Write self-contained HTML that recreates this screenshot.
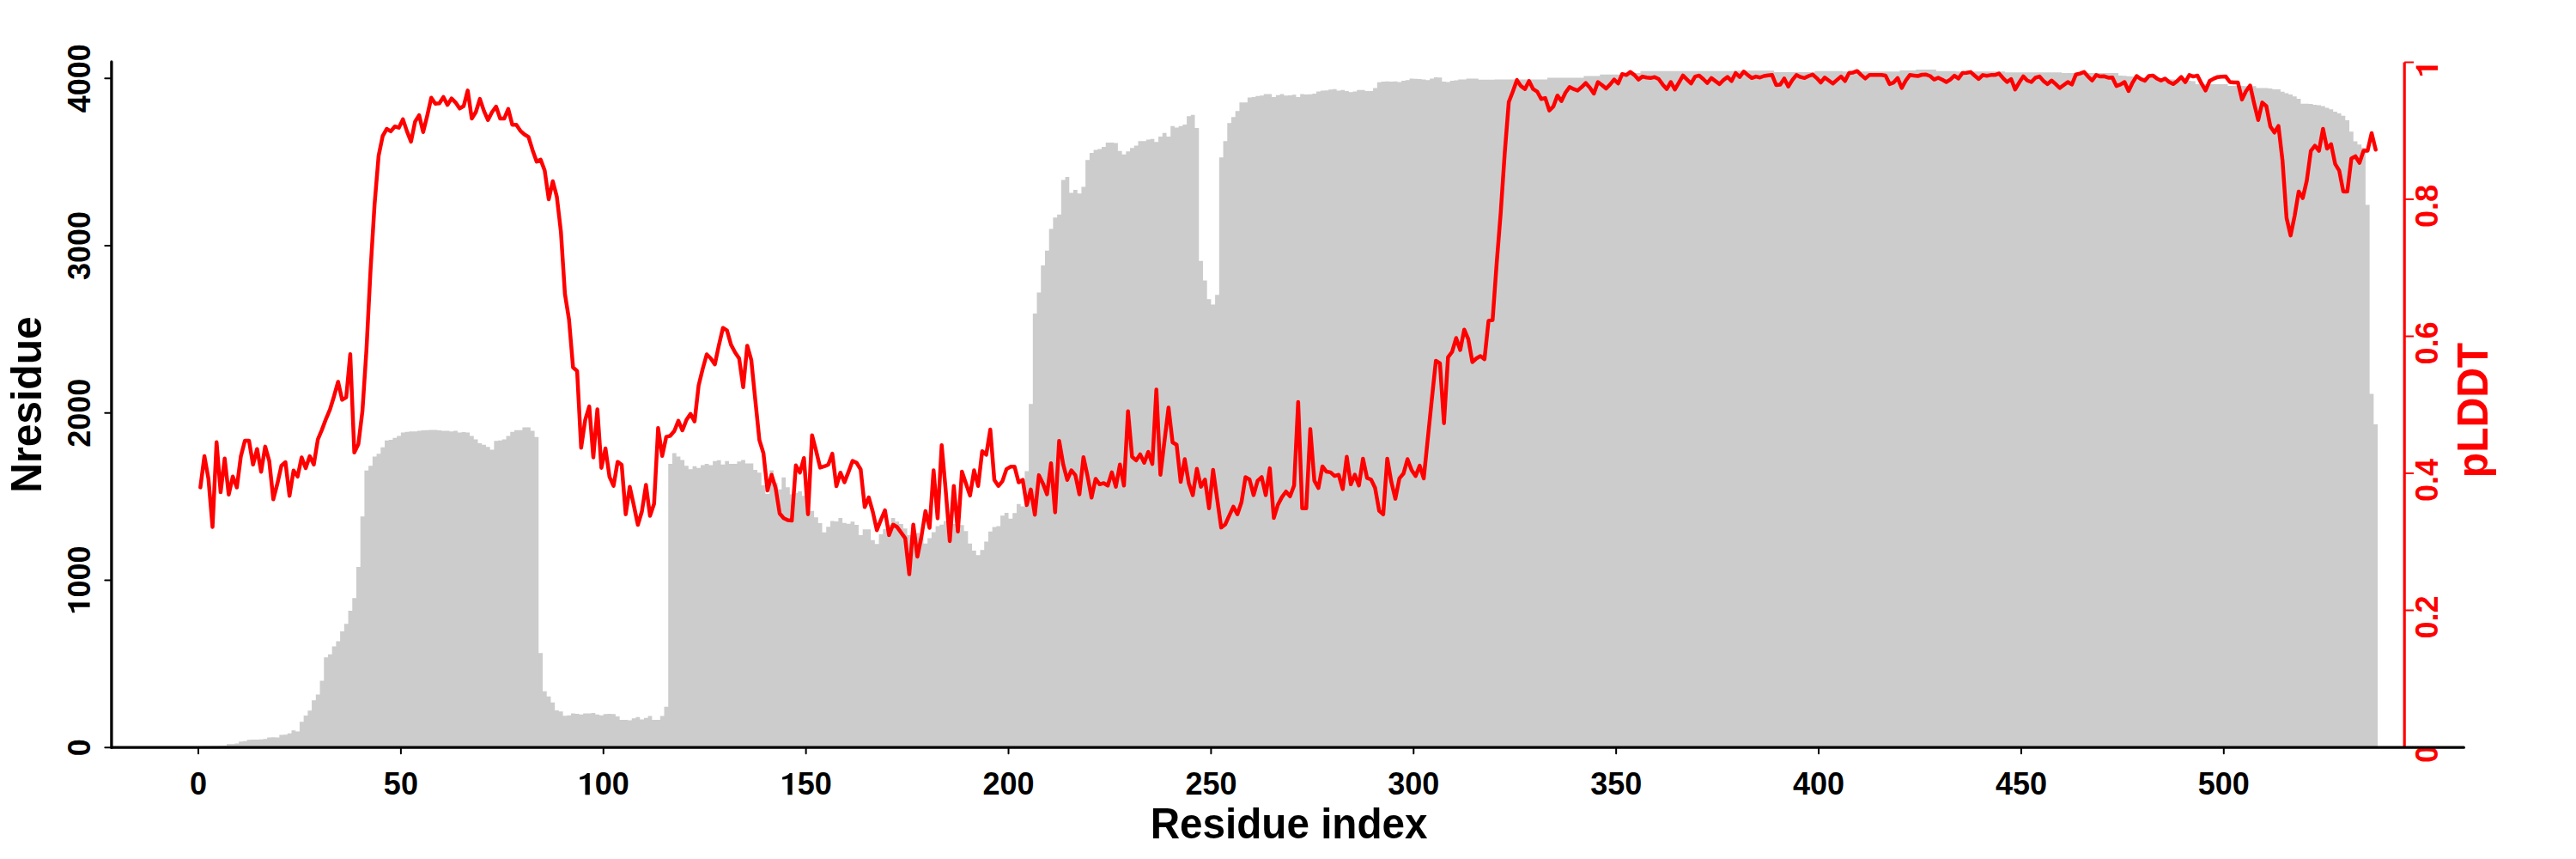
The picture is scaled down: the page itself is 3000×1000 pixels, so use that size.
<!DOCTYPE html>
<html><head><meta charset="utf-8"><title>Nresidue / pLDDT</title>
<style>html,body{margin:0;padding:0;background:#fff;width:3000px;height:1000px;overflow:hidden}svg{display:block}</style>
</head><body>
<svg width="3000" height="1000" viewBox="0 0 3000 1000">
<rect width="3000" height="1000" fill="#ffffff"/>
<path d="M231.00 870.30 L231.00 869.00 L235.72 869.00 L235.72 868.80 L240.44 868.80 L240.44 868.70 L245.15 868.70 L245.15 868.60 L249.87 868.60 L249.87 868.40 L254.59 868.40 L254.59 868.30 L259.31 868.30 L259.31 868.10 L264.02 868.10 L264.02 866.30 L268.74 866.30 L268.74 866.30 L273.46 866.30 L273.46 865.60 L278.18 865.60 L278.18 863.30 L282.89 863.30 L282.89 862.70 L287.61 862.70 L287.61 861.30 L292.33 861.30 L292.33 861.10 L297.05 861.10 L297.05 861.00 L301.76 861.00 L301.76 860.70 L306.48 860.70 L306.48 860.20 L311.20 860.20 L311.20 858.50 L315.92 858.50 L315.92 858.30 L320.63 858.30 L320.63 858.50 L325.35 858.50 L325.35 855.40 L330.07 855.40 L330.07 855.20 L334.79 855.20 L334.79 853.70 L339.50 853.70 L339.50 850.20 L344.22 850.20 L344.22 851.50 L348.94 851.50 L348.94 840.20 L353.66 840.20 L353.66 833.00 L358.38 833.00 L358.38 827.20 L363.09 827.20 L363.09 815.30 L367.81 815.30 L367.81 808.50 L372.53 808.50 L372.53 792.60 L377.25 792.60 L377.25 765.30 L381.96 765.30 L381.96 761.80 L386.68 761.80 L386.68 752.40 L391.40 752.40 L391.40 746.50 L396.12 746.50 L396.12 735.00 L400.83 735.00 L400.83 726.20 L405.55 726.20 L405.55 710.90 L410.27 710.90 L410.27 696.20 L414.99 696.20 L414.99 660.10 L419.70 660.10 L419.70 601.19 L424.42 601.19 L424.42 547.64 L429.14 547.64 L429.14 542.29 L433.86 542.29 L433.86 531.58 L438.57 531.58 L438.57 528.37 L443.29 528.37 L443.29 520.87 L448.01 520.87 L448.01 512.84 L452.73 512.84 L452.73 512.03 L457.44 512.03 L457.44 509.63 L462.16 509.63 L462.16 507.48 L466.88 507.48 L466.88 503.47 L471.60 503.47 L471.60 502.66 L476.32 502.66 L476.32 502.13 L481.03 502.13 L481.03 502.13 L485.75 502.13 L485.75 501.59 L490.47 501.59 L490.47 501.06 L495.19 501.06 L495.19 500.79 L499.90 500.79 L499.90 500.52 L504.62 500.52 L504.62 500.52 L509.34 500.52 L509.34 501.06 L514.06 501.06 L514.06 501.59 L518.77 501.59 L518.77 501.59 L523.49 501.59 L523.49 502.13 L528.21 502.13 L528.21 501.59 L532.93 501.59 L532.93 503.47 L537.64 503.47 L537.64 502.93 L542.36 502.93 L542.36 503.47 L547.08 503.47 L547.08 507.48 L551.80 507.48 L551.80 511.50 L556.51 511.50 L556.51 516.05 L561.23 516.05 L561.23 517.66 L565.95 517.66 L565.95 520.33 L570.67 520.33 L570.67 523.55 L575.38 523.55 L575.38 513.37 L580.10 513.37 L580.10 512.84 L584.82 512.84 L584.82 511.50 L589.54 511.50 L589.54 507.48 L594.26 507.48 L594.26 502.66 L598.97 502.66 L598.97 500.79 L603.69 500.79 L603.69 500.79 L608.41 500.79 L608.41 497.58 L613.13 497.58 L613.13 497.58 L617.84 497.58 L617.84 501.59 L622.56 501.59 L622.56 508.82 L627.28 508.82 L627.28 760.17 L632.00 760.17 L632.00 804.72 L636.71 804.72 L636.71 810.83 L641.43 810.83 L641.43 817.82 L646.15 817.82 L646.15 826.90 L650.87 826.90 L650.87 828.30 L655.58 828.30 L655.58 833.19 L660.30 833.19 L660.30 832.66 L665.02 832.66 L665.02 830.39 L669.74 830.39 L669.74 830.92 L674.45 830.92 L674.45 831.79 L679.17 831.79 L679.17 830.39 L683.89 830.39 L683.89 830.39 L688.61 830.39 L688.61 830.04 L693.32 830.04 L693.32 831.79 L698.04 831.79 L698.04 832.66 L702.76 832.66 L702.76 831.27 L707.48 831.27 L707.48 831.09 L712.20 831.09 L712.20 831.27 L716.91 831.27 L716.91 833.89 L721.63 833.89 L721.63 837.90 L726.35 837.90 L726.35 837.90 L731.07 837.90 L731.07 838.43 L735.78 838.43 L735.78 836.16 L740.50 836.16 L740.50 834.76 L745.22 834.76 L745.22 837.38 L749.94 837.38 L749.94 835.63 L754.65 835.63 L754.65 833.54 L759.37 833.54 L759.37 837.90 L764.09 837.90 L764.09 837.90 L768.81 837.90 L768.81 833.54 L773.52 833.54 L773.52 822.71 L778.24 822.71 L778.24 539.99 L782.96 539.99 L782.96 527.40 L787.68 527.40 L787.68 531.42 L792.39 531.42 L792.39 535.44 L797.11 535.44 L797.11 542.13 L801.83 542.13 L801.83 546.14 L806.55 546.14 L806.55 542.66 L811.26 542.66 L811.26 544.81 L815.98 544.81 L815.98 541.59 L820.70 541.59 L820.70 539.99 L825.42 539.99 L825.42 541.59 L830.14 541.59 L830.14 536.77 L834.85 536.77 L834.85 535.70 L839.57 535.70 L839.57 540.79 L844.29 540.79 L844.29 536.77 L849.01 536.77 L849.01 539.99 L853.72 539.99 L853.72 539.99 L858.44 539.99 L858.44 537.31 L863.16 537.31 L863.16 535.44 L867.88 535.44 L867.88 539.45 L872.59 539.45 L872.59 539.45 L877.31 539.45 L877.31 546.95 L882.03 546.95 L882.03 550.16 L886.75 550.16 L886.75 564.89 L891.46 564.89 L891.46 574.94 L896.18 574.94 L896.18 547.57 L900.90 547.57 L900.90 562.13 L905.62 562.13 L905.62 569.70 L910.33 569.70 L910.33 555.72 L915.05 555.72 L915.05 567.37 L919.77 567.37 L919.77 575.52 L924.49 575.52 L924.49 573.77 L929.20 573.77 L929.20 572.03 L933.92 572.03 L933.92 577.27 L938.64 577.27 L938.64 584.25 L943.36 584.25 L943.36 594.73 L948.08 594.73 L948.08 602.30 L952.79 602.30 L952.79 608.94 L957.51 608.94 L957.51 619.77 L962.23 619.77 L962.23 613.13 L966.95 613.13 L966.95 606.38 L971.66 606.38 L971.66 606.96 L976.38 606.96 L976.38 602.89 L981.10 602.89 L981.10 608.71 L985.82 608.71 L985.82 609.87 L990.53 609.87 L990.53 607.31 L995.25 607.31 L995.25 611.04 L999.97 611.04 L999.97 622.92 L1004.69 622.92 L1004.69 616.28 L1009.40 616.28 L1009.40 616.28 L1014.12 616.28 L1014.12 628.74 L1018.84 628.74 L1018.84 633.16 L1023.56 633.16 L1023.56 622.10 L1028.27 622.10 L1028.27 615.70 L1032.99 615.70 L1032.99 611.04 L1037.71 611.04 L1037.71 602.89 L1042.43 602.89 L1042.43 607.16 L1047.14 607.16 L1047.14 610.08 L1051.86 610.08 L1051.86 615.32 L1056.58 615.32 L1056.58 622.89 L1061.30 622.89 L1061.30 620.56 L1066.02 620.56 L1066.02 620.56 L1070.73 620.56 L1070.73 626.38 L1075.45 626.38 L1075.45 632.78 L1080.17 632.78 L1080.17 626.38 L1084.89 626.38 L1084.89 619.39 L1089.60 619.39 L1089.60 612.40 L1094.32 612.40 L1094.32 610.66 L1099.04 610.66 L1099.04 606.58 L1103.76 606.58 L1103.76 608.91 L1108.47 608.91 L1108.47 610.08 L1113.19 610.08 L1113.19 611.24 L1117.91 611.24 L1117.91 611.24 L1122.63 611.24 L1122.63 618.23 L1127.34 618.23 L1127.34 632.78 L1132.06 632.78 L1132.06 640.94 L1136.78 640.94 L1136.78 646.18 L1141.50 646.18 L1141.50 640.35 L1146.21 640.35 L1146.21 630.46 L1150.93 630.46 L1150.93 618.81 L1155.65 618.81 L1155.65 613.57 L1160.37 613.57 L1160.37 612.40 L1165.08 612.40 L1165.08 600.18 L1169.80 600.18 L1169.80 597.03 L1174.52 597.03 L1174.52 603.67 L1179.24 603.67 L1179.24 597.27 L1183.96 597.27 L1183.96 586.63 L1188.67 586.63 L1188.67 589.42 L1193.39 589.42 L1193.39 548.45 L1198.11 548.45 L1198.11 470.24 L1202.83 470.24 L1202.83 364.98 L1207.54 364.98 L1207.54 340.53 L1212.26 340.53 L1212.26 309.09 L1216.98 309.09 L1216.98 291.63 L1221.70 291.63 L1221.70 266.48 L1226.41 266.48 L1226.41 253.21 L1231.13 253.21 L1231.13 249.71 L1235.85 249.71 L1235.85 209.55 L1240.57 209.55 L1240.57 206.05 L1245.28 206.05 L1245.28 224.57 L1250.00 224.57 L1250.00 221.07 L1254.72 221.07 L1254.72 225.26 L1259.44 225.26 L1259.44 217.58 L1264.15 217.58 L1264.15 186.14 L1268.87 186.14 L1268.87 178.11 L1273.59 178.11 L1273.59 174.62 L1278.31 174.62 L1278.31 173.57 L1283.02 173.57 L1283.02 171.12 L1287.74 171.12 L1287.74 165.89 L1292.46 165.89 L1292.46 165.89 L1297.18 165.89 L1297.18 166.58 L1301.90 166.58 L1301.90 175.67 L1306.61 175.67 L1306.61 179.86 L1311.33 179.86 L1311.33 176.36 L1316.05 176.36 L1316.05 172.17 L1320.77 172.17 L1320.77 169.38 L1325.48 169.38 L1325.48 164.14 L1330.20 164.14 L1330.20 164.14 L1334.92 164.14 L1334.92 162.39 L1339.64 162.39 L1339.64 161.69 L1344.35 161.69 L1344.35 165.19 L1349.07 165.19 L1349.07 158.90 L1353.79 158.90 L1353.79 154.71 L1358.51 154.71 L1358.51 158.90 L1363.22 158.90 L1363.22 146.67 L1367.94 146.67 L1367.94 148.42 L1372.66 148.42 L1372.66 146.67 L1377.38 146.67 L1377.38 144.93 L1382.09 144.93 L1382.09 135.15 L1386.81 135.15 L1386.81 133.75 L1391.53 133.75 L1391.53 149.12 L1396.25 149.12 L1396.25 303.85 L1400.96 303.85 L1400.96 326.56 L1405.68 326.56 L1405.68 348.21 L1410.40 348.21 L1410.40 354.50 L1415.12 354.50 L1415.12 343.32 L1419.84 343.32 L1419.84 183.35 L1424.55 183.35 L1424.55 164.14 L1429.27 164.14 L1429.27 143.18 L1433.99 143.18 L1433.99 136.20 L1438.71 136.20 L1438.71 129.21 L1443.42 129.21 L1443.42 119.36 L1448.14 119.36 L1448.14 119.36 L1452.86 119.36 L1452.86 113.54 L1457.58 113.54 L1457.58 112.96 L1462.29 112.96 L1462.29 111.79 L1467.01 111.79 L1467.01 111.21 L1471.73 111.21 L1471.73 109.46 L1476.45 109.46 L1476.45 109.46 L1481.16 109.46 L1481.16 112.96 L1485.88 112.96 L1485.88 110.63 L1490.60 110.63 L1490.60 109.46 L1495.32 109.46 L1495.32 111.21 L1500.03 111.21 L1500.03 110.98 L1504.75 110.98 L1504.75 110.28 L1509.47 110.28 L1509.47 112.96 L1514.19 112.96 L1514.19 109.46 L1518.90 109.46 L1518.90 110.05 L1523.62 110.05 L1523.62 109.81 L1528.34 109.81 L1528.34 108.88 L1533.06 108.88 L1533.06 106.55 L1537.78 106.55 L1537.78 105.62 L1542.49 105.62 L1542.49 105.16 L1547.21 105.16 L1547.21 104.23 L1551.93 104.23 L1551.93 103.65 L1556.65 103.65 L1556.65 105.39 L1561.36 105.39 L1561.36 104.81 L1566.08 104.81 L1566.08 105.97 L1570.80 105.97 L1570.80 107.14 L1575.52 107.14 L1575.52 106.55 L1580.23 106.55 L1580.23 104.81 L1584.95 104.81 L1584.95 104.81 L1589.67 104.81 L1589.67 105.97 L1594.39 105.97 L1594.39 105.97 L1599.10 105.97 L1599.10 102.48 L1603.82 102.48 L1603.82 95.85 L1608.54 95.85 L1608.54 94.92 L1613.26 94.92 L1613.26 94.68 L1617.97 94.68 L1617.97 94.92 L1622.69 94.92 L1622.69 94.68 L1627.41 94.68 L1627.41 95.50 L1632.13 95.50 L1632.13 93.99 L1636.84 93.99 L1636.84 93.17 L1641.56 93.17 L1641.56 91.42 L1646.28 91.42 L1646.28 91.66 L1651.00 91.66 L1651.00 92.01 L1655.72 92.01 L1655.72 92.59 L1660.43 92.59 L1660.43 93.17 L1665.15 93.17 L1665.15 91.42 L1669.87 91.42 L1669.87 90.03 L1674.59 90.03 L1674.59 90.26 L1679.30 90.26 L1679.30 94.92 L1684.02 94.92 L1684.02 95.50 L1688.74 95.50 L1688.74 93.99 L1693.46 93.99 L1693.46 93.52 L1698.17 93.52 L1698.17 92.59 L1702.89 92.59 L1702.89 92.59 L1707.61 92.59 L1707.61 91.42 L1712.33 91.42 L1712.33 91.42 L1717.04 91.42 L1717.04 91.42 L1721.76 91.42 L1721.76 92.82 L1726.48 92.82 L1726.48 92.82 L1731.20 92.82 L1731.20 92.82 L1735.91 92.82 L1735.91 92.82 L1740.63 92.82 L1740.63 92.59 L1745.35 92.59 L1745.35 92.59 L1750.07 92.59 L1750.07 92.59 L1754.78 92.59 L1754.78 92.59 L1759.50 92.59 L1759.50 92.59 L1764.22 92.59 L1764.22 92.59 L1768.94 92.59 L1768.94 92.59 L1773.66 92.59 L1773.66 92.59 L1778.37 92.59 L1778.37 92.59 L1783.09 92.59 L1783.09 92.59 L1787.81 92.59 L1787.81 92.59 L1792.53 92.59 L1792.53 92.59 L1797.24 92.59 L1797.24 92.59 L1801.96 92.59 L1801.96 90.49 L1806.68 90.49 L1806.68 90.49 L1811.40 90.49 L1811.40 90.49 L1816.11 90.49 L1816.11 90.49 L1820.83 90.49 L1820.83 90.49 L1825.55 90.49 L1825.55 90.49 L1830.27 90.49 L1830.27 90.49 L1834.98 90.49 L1834.98 90.49 L1839.70 90.49 L1839.70 90.49 L1844.42 90.49 L1844.42 88.51 L1849.14 88.51 L1849.14 88.51 L1853.85 88.51 L1853.85 88.51 L1858.57 88.51 L1858.57 88.51 L1863.29 88.51 L1863.29 86.77 L1868.01 86.77 L1868.01 86.77 L1872.72 86.77 L1872.72 86.77 L1877.44 86.77 L1877.44 86.77 L1882.16 86.77 L1882.16 86.77 L1886.88 86.77 L1886.88 85.02 L1891.60 85.02 L1891.60 85.02 L1896.31 85.02 L1896.31 85.02 L1901.03 85.02 L1901.03 85.02 L1905.75 85.02 L1905.75 85.02 L1910.47 85.02 L1910.47 82.80 L1915.18 82.80 L1915.18 82.80 L1919.90 82.80 L1919.90 82.80 L1924.62 82.80 L1924.62 82.80 L1929.34 82.80 L1929.34 82.80 L1934.05 82.80 L1934.05 82.80 L1938.77 82.80 L1938.77 82.80 L1943.49 82.80 L1943.49 82.80 L1948.21 82.80 L1948.21 82.80 L1952.92 82.80 L1952.92 82.80 L1957.64 82.80 L1957.64 82.80 L1962.36 82.80 L1962.36 82.80 L1967.08 82.80 L1967.08 82.80 L1971.79 82.80 L1971.79 82.80 L1976.51 82.80 L1976.51 82.80 L1981.23 82.80 L1981.23 82.80 L1985.95 82.80 L1985.95 82.80 L1990.66 82.80 L1990.66 82.80 L1995.38 82.80 L1995.38 82.80 L2000.10 82.80 L2000.10 82.80 L2004.82 82.80 L2004.82 82.80 L2009.54 82.80 L2009.54 82.80 L2014.25 82.80 L2014.25 82.80 L2018.97 82.80 L2018.97 82.20 L2023.69 82.20 L2023.69 82.20 L2028.41 82.20 L2028.41 82.20 L2033.12 82.20 L2033.12 82.20 L2037.84 82.20 L2037.84 82.20 L2042.56 82.20 L2042.56 82.20 L2047.28 82.20 L2047.28 82.20 L2051.99 82.20 L2051.99 82.20 L2056.71 82.20 L2056.71 82.20 L2061.43 82.20 L2061.43 82.20 L2066.15 82.20 L2066.15 84.00 L2070.86 84.00 L2070.86 84.00 L2075.58 84.00 L2075.58 84.00 L2080.30 84.00 L2080.30 84.00 L2085.02 84.00 L2085.02 84.00 L2089.73 84.00 L2089.73 84.00 L2094.45 84.00 L2094.45 84.00 L2099.17 84.00 L2099.17 84.00 L2103.89 84.00 L2103.89 84.00 L2108.60 84.00 L2108.60 84.00 L2113.32 84.00 L2113.32 82.70 L2118.04 82.70 L2118.04 82.70 L2122.76 82.70 L2122.76 82.70 L2127.48 82.70 L2127.48 82.70 L2132.19 82.70 L2132.19 82.70 L2136.91 82.70 L2136.91 82.70 L2141.63 82.70 L2141.63 82.70 L2146.35 82.70 L2146.35 83.30 L2151.06 83.30 L2151.06 83.30 L2155.78 83.30 L2155.78 83.30 L2160.50 83.30 L2160.50 83.30 L2165.22 83.30 L2165.22 83.30 L2169.93 83.30 L2169.93 83.30 L2174.65 83.30 L2174.65 83.30 L2179.37 83.30 L2179.37 83.30 L2184.09 83.30 L2184.09 83.30 L2188.80 83.30 L2188.80 83.30 L2193.52 83.30 L2193.52 83.30 L2198.24 83.30 L2198.24 83.30 L2202.96 83.30 L2202.96 83.30 L2207.67 83.30 L2207.67 83.30 L2212.39 83.30 L2212.39 82.10 L2217.11 82.10 L2217.11 82.10 L2221.83 82.10 L2221.83 82.10 L2226.54 82.10 L2226.54 82.10 L2231.26 82.10 L2231.26 81.00 L2235.98 81.00 L2235.98 81.00 L2240.70 81.00 L2240.70 81.00 L2245.42 81.00 L2245.42 81.00 L2250.13 81.00 L2250.13 81.00 L2254.85 81.00 L2254.85 82.70 L2259.57 82.70 L2259.57 82.70 L2264.29 82.70 L2264.29 82.70 L2269.00 82.70 L2269.00 82.70 L2273.72 82.70 L2273.72 82.70 L2278.44 82.70 L2278.44 83.30 L2283.16 83.30 L2283.16 83.30 L2287.87 83.30 L2287.87 83.30 L2292.59 83.30 L2292.59 83.30 L2297.31 83.30 L2297.31 83.30 L2302.03 83.30 L2302.03 83.30 L2306.74 83.30 L2306.74 83.30 L2311.46 83.30 L2311.46 83.30 L2316.18 83.30 L2316.18 83.30 L2320.90 83.30 L2320.90 83.30 L2325.61 83.30 L2325.61 83.30 L2330.33 83.30 L2330.33 83.30 L2335.05 83.30 L2335.05 84.20 L2339.77 84.20 L2339.77 84.20 L2344.48 84.20 L2344.48 84.20 L2349.20 84.20 L2349.20 84.20 L2353.92 84.20 L2353.92 84.20 L2358.64 84.20 L2358.64 84.20 L2363.36 84.20 L2363.36 84.20 L2368.07 84.20 L2368.07 84.20 L2372.79 84.20 L2372.79 84.20 L2377.51 84.20 L2377.51 84.20 L2382.23 84.20 L2382.23 84.20 L2386.94 84.20 L2386.94 84.20 L2391.66 84.20 L2391.66 84.20 L2396.38 84.20 L2396.38 84.20 L2401.10 84.20 L2401.10 85.00 L2405.81 85.00 L2405.81 85.00 L2410.53 85.00 L2410.53 85.00 L2415.25 85.00 L2415.25 85.00 L2419.97 85.00 L2419.97 85.00 L2424.68 85.00 L2424.68 85.00 L2429.40 85.00 L2429.40 85.00 L2434.12 85.00 L2434.12 85.00 L2438.84 85.00 L2438.84 85.00 L2443.55 85.00 L2443.55 85.00 L2448.27 85.00 L2448.27 85.00 L2452.99 85.00 L2452.99 85.00 L2457.71 85.00 L2457.71 85.00 L2462.42 85.00 L2462.42 85.00 L2467.14 85.00 L2467.14 88.00 L2471.86 88.00 L2471.86 88.35 L2476.58 88.35 L2476.58 88.71 L2481.30 88.71 L2481.30 89.06 L2486.01 89.06 L2486.01 89.41 L2490.73 89.41 L2490.73 89.76 L2495.45 89.76 L2495.45 90.12 L2500.17 90.12 L2500.17 90.47 L2504.88 90.47 L2504.88 90.82 L2509.60 90.82 L2509.60 91.18 L2514.32 91.18 L2514.32 91.53 L2519.04 91.53 L2519.04 91.88 L2523.75 91.88 L2523.75 92.24 L2528.47 92.24 L2528.47 92.59 L2533.19 92.59 L2533.19 92.94 L2537.91 92.94 L2537.91 93.29 L2542.62 93.29 L2542.62 93.65 L2547.34 93.65 L2547.34 94.00 L2552.06 94.00 L2552.06 94.50 L2556.78 94.50 L2556.78 98.00 L2561.49 98.00 L2561.49 98.00 L2566.21 98.00 L2566.21 98.00 L2570.93 98.00 L2570.93 98.00 L2575.65 98.00 L2575.65 98.00 L2580.36 98.00 L2580.36 98.00 L2585.08 98.00 L2585.08 98.00 L2589.80 98.00 L2589.80 98.00 L2594.52 98.00 L2594.52 99.90 L2599.24 99.90 L2599.24 99.90 L2603.95 99.90 L2603.95 99.90 L2608.67 99.90 L2608.67 99.90 L2613.39 99.90 L2613.39 100.30 L2618.11 100.30 L2618.11 100.30 L2622.82 100.30 L2622.82 100.30 L2627.54 100.30 L2627.54 102.50 L2632.26 102.50 L2632.26 102.50 L2636.98 102.50 L2636.98 102.50 L2641.69 102.50 L2641.69 103.00 L2646.41 103.00 L2646.41 104.00 L2651.13 104.00 L2651.13 104.00 L2655.85 104.00 L2655.85 106.80 L2660.56 106.80 L2660.56 108.60 L2665.28 108.60 L2665.28 110.00 L2670.00 110.00 L2670.00 112.30 L2674.72 112.30 L2674.72 115.10 L2679.43 115.10 L2679.43 120.70 L2684.15 120.70 L2684.15 120.70 L2688.87 120.70 L2688.87 121.00 L2693.59 121.00 L2693.59 122.00 L2698.30 122.00 L2698.30 122.60 L2703.02 122.60 L2703.02 123.50 L2707.74 123.50 L2707.74 125.50 L2712.46 125.50 L2712.46 127.20 L2717.18 127.20 L2717.18 130.00 L2721.89 130.00 L2721.89 132.00 L2726.61 132.00 L2726.61 134.70 L2731.33 134.70 L2731.33 139.90 L2736.05 139.90 L2736.05 153.30 L2740.76 153.30 L2740.76 164.50 L2745.48 164.50 L2745.48 168.20 L2750.20 168.20 L2750.20 172.00 L2754.92 172.00 L2754.92 238.50 L2759.63 238.50 L2759.63 458.60 L2764.35 458.60 L2764.35 494.00 L2769.07 494.00 L2769.07 870.30 Z" fill="#cccccc" stroke="none"/>
<polyline points="233.36,567.37 238.08,531.06 242.79,557.60 247.51,613.46 252.23,514.86 256.95,572.96 261.66,533.85 266.38,575.75 271.10,554.80 275.82,567.37 280.53,531.06 285.25,512.91 289.97,512.91 294.69,540.84 299.41,522.68 304.12,549.22 308.84,519.89 313.56,536.65 318.28,581.34 322.99,563.18 327.71,542.23 332.43,538.04 337.15,577.15 341.86,547.82 346.58,554.80 351.30,532.46 356.02,545.03 360.73,531.06 365.45,540.84 370.17,511.51 374.89,500.34 379.60,487.77 384.32,476.59 389.04,461.23 393.76,444.47 398.47,465.42 403.19,462.63 407.91,412.35 412.63,526.87 417.35,517.09 422.06,478.83 426.78,407.04 431.50,314.86 436.22,238.04 440.93,181.34 445.65,158.44 450.37,150.06 455.09,152.85 459.80,147.26 464.52,148.66 469.24,138.88 473.96,152.85 478.67,164.86 483.39,141.68 488.11,134.13 492.83,153.69 497.54,134.69 502.26,113.74 506.98,120.73 511.70,120.17 516.41,112.91 521.13,122.12 525.85,114.58 530.57,119.33 535.29,126.31 540.00,123.52 544.72,105.36 549.44,138.04 554.16,130.50 558.87,115.14 563.59,129.11 568.31,139.72 573.03,130.50 577.74,124.08 582.46,138.04 587.18,138.04 591.90,126.87 596.61,145.31 601.33,145.36 606.05,152.35 610.77,156.54 615.48,159.33 620.20,174.69 624.92,188.10 629.64,185.87 634.35,198.44 639.07,231.96 643.79,211.01 648.51,229.16 653.23,269.66 657.94,342.29 662.66,371.88 667.38,427.73 672.10,431.92 676.81,521.27 681.53,488.81 686.25,473.11 690.97,532.44 695.68,476.60 700.40,544.66 705.12,521.97 709.84,555.13 714.55,565.60 719.27,537.68 723.99,541.17 728.71,598.76 733.42,566.65 738.14,588.29 742.86,610.98 747.58,595.27 752.29,564.55 757.01,600.51 761.73,586.54 766.45,498.24 771.17,530.70 775.88,508.71 780.60,507.31 785.32,501.73 790.04,489.86 794.75,501.03 799.47,488.81 804.19,481.83 808.91,490.56 813.62,448.67 818.34,429.48 823.06,412.51 827.78,417.26 832.49,424.25 837.21,401.90 841.93,381.79 846.65,384.58 851.36,401.34 856.08,410.28 860.80,417.26 865.52,450.78 870.23,402.46 874.95,419.22 879.67,466.15 884.39,512.23 889.11,527.60 893.82,570.89 898.54,552.74 903.26,567.93 907.98,597.73 912.69,603.31 917.41,605.55 922.13,606.11 926.85,541.86 931.56,550.24 936.28,533.18 941.00,598.66 945.72,506.65 950.43,524.80 955.15,544.36 959.87,542.96 964.59,541.01 969.30,528.16 974.02,566.07 978.74,550.24 983.46,561.42 988.17,549.31 992.89,536.54 997.61,538.77 1002.33,546.52 1007.05,590.28 1011.76,579.11 1016.48,595.87 1021.20,617.28 1025.92,605.18 1030.63,594.00 1035.35,622.87 1040.07,610.76 1044.79,613.56 1049.50,620.07 1054.22,626.59 1058.94,668.49 1063.66,610.76 1068.37,648.01 1073.09,624.73 1077.81,594.93 1082.53,614.58 1087.24,547.54 1091.96,603.41 1096.68,518.21 1101.40,571.28 1106.11,629.94 1110.83,565.70 1115.55,618.77 1120.27,548.94 1124.99,562.91 1129.70,576.87 1134.42,547.54 1139.14,565.70 1143.86,525.20 1148.57,529.39 1153.29,500.06 1158.01,558.72 1162.73,565.70 1167.44,560.11 1172.16,546.15 1176.88,543.35 1181.60,543.35 1186.31,561.51 1191.03,558.72 1195.75,588.04 1200.47,569.89 1205.18,599.22 1209.90,553.13 1214.62,562.91 1219.34,575.47 1224.05,539.16 1228.77,596.42 1233.49,513.18 1238.21,540.56 1242.93,558.72 1247.64,547.54 1252.36,553.13 1257.08,575.47 1261.80,532.18 1266.51,554.08 1271.23,579.22 1275.95,557.43 1280.67,563.85 1285.38,562.46 1290.10,565.25 1294.82,549.89 1299.54,566.65 1304.25,540.67 1308.97,565.25 1313.69,478.66 1318.41,531.73 1323.12,535.92 1327.84,528.94 1332.56,538.72 1337.28,526.15 1341.99,540.11 1346.71,453.52 1351.43,552.68 1356.15,513.58 1360.87,474.47 1365.58,514.97 1370.30,517.77 1375.02,561.06 1379.74,534.53 1384.45,562.46 1389.17,576.42 1393.89,545.70 1398.61,566.65 1403.32,558.27 1408.04,591.79 1412.76,547.09 1417.48,580.61 1422.19,614.13 1426.91,610.50 1431.63,600.17 1436.35,589.83 1441.06,598.77 1445.78,584.80 1450.50,555.47 1455.22,558.27 1459.93,576.42 1464.65,559.66 1469.37,555.47 1474.09,576.42 1478.81,545.14 1483.52,602.96 1488.24,587.60 1492.96,578.66 1497.68,572.23 1502.39,577.82 1507.11,565.25 1511.83,468.04 1516.55,591.79 1521.26,591.79 1525.98,499.61 1530.70,559.66 1535.42,568.04 1540.13,542.91 1544.85,549.05 1549.57,549.89 1554.29,554.08 1559.00,552.68 1563.72,569.44 1568.44,531.73 1573.16,563.85 1577.87,552.68 1582.59,565.25 1587.31,533.97 1592.03,556.31 1596.75,558.27 1601.46,568.04 1606.18,594.58 1610.90,598.77 1615.62,533.97 1620.33,561.06 1625.05,580.61 1629.77,556.87 1634.49,551.28 1639.20,534.53 1643.92,547.15 1648.64,554.13 1653.36,542.12 1658.07,556.93 1662.79,510.84 1667.51,464.75 1672.23,420.06 1676.94,422.85 1681.66,492.68 1686.38,415.87 1691.10,409.72 1695.81,393.52 1700.53,407.49 1705.25,383.74 1709.97,394.92 1714.69,421.45 1719.40,417.26 1724.12,414.47 1728.84,418.10 1733.56,373.41 1738.27,372.57 1742.99,307.00 1747.71,248.00 1752.43,178.00 1757.14,118.78 1761.86,106.55 1766.58,93.17 1771.30,100.15 1776.01,103.65 1780.73,94.33 1785.45,103.65 1790.17,106.55 1794.88,115.28 1799.60,114.12 1804.32,128.67 1809.04,124.01 1813.75,111.21 1818.47,117.61 1823.19,107.72 1827.91,101.32 1832.63,103.65 1837.34,105.39 1842.06,101.32 1846.78,96.66 1851.50,101.90 1856.21,108.88 1860.93,95.50 1865.65,98.99 1870.37,103.06 1875.08,98.41 1879.80,92.59 1884.52,97.24 1889.24,86.19 1893.95,87.35 1898.67,83.86 1903.39,87.35 1908.11,92.59 1912.82,89.10 1917.54,90.26 1922.26,90.84 1926.98,89.68 1931.69,92.01 1936.41,98.41 1941.13,103.65 1945.85,95.50 1950.57,104.23 1955.28,96.08 1960.00,87.93 1964.72,92.59 1969.44,97.24 1974.15,89.10 1978.87,87.93 1983.59,92.01 1988.31,96.66 1993.02,90.84 1997.74,94.33 2002.46,97.83 2007.18,93.17 2011.89,89.68 2016.61,94.33 2021.33,85.02 2026.05,89.68 2030.76,83.28 2035.48,87.35 2040.20,90.84 2044.92,89.10 2049.63,90.26 2054.35,88.51 2059.07,87.70 2063.79,87.35 2068.51,98.99 2073.22,98.41 2077.94,91.42 2082.66,100.74 2087.38,93.17 2092.09,87.35 2096.81,89.68 2101.53,90.84 2106.25,88.51 2110.96,86.77 2115.68,90.84 2120.40,96.08 2125.12,90.26 2129.83,93.75 2134.55,97.24 2139.27,93.17 2143.99,89.10 2148.70,94.33 2153.42,85.02 2158.14,84.44 2162.86,82.70 2167.57,87.35 2172.29,91.42 2177.01,87.35 2181.73,87.35 2186.45,87.35 2191.16,87.35 2195.88,87.93 2200.60,97.83 2205.32,96.08 2210.03,90.84 2214.75,102.48 2219.47,93.75 2224.19,87.35 2228.90,87.93 2233.62,88.51 2238.34,87.00 2243.06,86.77 2247.77,88.51 2252.49,92.59 2257.21,90.49 2261.93,92.82 2266.64,95.50 2271.36,92.59 2276.08,88.17 2280.80,91.42 2285.51,85.02 2290.23,84.67 2294.95,83.86 2299.67,87.93 2304.39,92.01 2309.10,87.35 2313.82,88.17 2318.54,87.35 2323.26,87.35 2327.97,85.61 2332.69,90.84 2337.41,95.50 2342.13,92.01 2346.84,104.23 2351.56,96.08 2356.28,88.86 2361.00,93.75 2365.71,95.50 2370.43,90.49 2375.15,89.10 2379.87,94.33 2384.58,97.83 2389.30,93.75 2394.02,97.83 2398.74,102.48 2403.45,98.99 2408.17,95.50 2412.89,98.41 2417.61,86.77 2422.33,85.61 2427.04,83.86 2431.76,89.10 2436.48,93.75 2441.20,87.35 2445.91,89.10 2450.63,88.86 2455.35,90.49 2460.07,90.26 2464.78,100.15 2469.50,98.41 2474.22,95.50 2478.94,105.97 2483.65,96.08 2488.37,88.51 2493.09,92.01 2497.81,93.99 2502.52,88.51 2507.24,87.93 2511.96,91.42 2516.68,93.75 2521.39,91.42 2526.11,95.50 2530.83,97.83 2535.55,94.33 2540.27,89.68 2544.98,95.50 2549.70,87.35 2554.42,89.10 2559.14,87.93 2563.85,97.24 2568.57,105.39 2573.29,94.33 2578.01,91.66 2582.72,89.68 2587.44,89.33 2592.16,89.10 2596.88,95.50 2601.59,96.08 2606.31,96.08 2611.03,115.87 2615.75,105.97 2620.46,99.57 2625.18,120.52 2629.90,139.73 2634.62,119.36 2639.33,123.43 2644.05,147.29 2648.77,154.27 2653.49,146.71 2658.21,187.07 2662.92,253.65 2667.64,274.14 2672.36,251.09 2677.08,222.92 2681.79,230.60 2686.51,210.12 2691.23,175.54 2695.95,169.65 2700.66,175.54 2705.38,149.94 2710.10,172.98 2714.82,167.86 2719.53,190.91 2724.25,198.59 2728.97,222.92 2733.69,222.92 2738.40,184.51 2743.12,181.95 2747.84,189.63 2752.56,175.54 2757.27,175.54 2761.99,155.06 2766.71,174.26" fill="none" stroke="#ff0000" stroke-width="4.5" stroke-linejoin="round" stroke-linecap="round"/>
<line x1="2800.2" y1="72.5" x2="2800.2" y2="870.3" stroke="#ff0000" stroke-width="3.2"/>
<line x1="2800.2" y1="870.00" x2="2811" y2="870.00" stroke="#ff0000" stroke-width="2"/>
<g transform="translate(2839 878.00) rotate(-90)"><text x="-10.01" y="0" font-family='"Liberation Sans", sans-serif' font-weight="bold" font-size="36" fill="#ff0000">0</text></g>
<line x1="2800.2" y1="710.50" x2="2811" y2="710.50" stroke="#ff0000" stroke-width="2"/>
<g transform="translate(2839 718.50) rotate(-90)"><text x="-25.02" y="0" font-family='"Liberation Sans", sans-serif' font-weight="bold" font-size="36" fill="#ff0000">0</text><text x="-5.00" y="0" font-family='"Liberation Sans", sans-serif' font-weight="bold" font-size="36" fill="#ff0000">.</text><text x="5.00" y="0" font-family='"Liberation Sans", sans-serif' font-weight="bold" font-size="36" fill="#ff0000">2</text></g>
<line x1="2800.2" y1="551.00" x2="2811" y2="551.00" stroke="#ff0000" stroke-width="2"/>
<g transform="translate(2839 559.00) rotate(-90)"><text x="-25.02" y="0" font-family='"Liberation Sans", sans-serif' font-weight="bold" font-size="36" fill="#ff0000">0</text><text x="-5.00" y="0" font-family='"Liberation Sans", sans-serif' font-weight="bold" font-size="36" fill="#ff0000">.</text><text x="5.00" y="0" font-family='"Liberation Sans", sans-serif' font-weight="bold" font-size="36" fill="#ff0000">4</text></g>
<line x1="2800.2" y1="391.50" x2="2811" y2="391.50" stroke="#ff0000" stroke-width="2"/>
<g transform="translate(2839 399.50) rotate(-90)"><text x="-25.02" y="0" font-family='"Liberation Sans", sans-serif' font-weight="bold" font-size="36" fill="#ff0000">0</text><text x="-5.00" y="0" font-family='"Liberation Sans", sans-serif' font-weight="bold" font-size="36" fill="#ff0000">.</text><text x="5.00" y="0" font-family='"Liberation Sans", sans-serif' font-weight="bold" font-size="36" fill="#ff0000">6</text></g>
<line x1="2800.2" y1="232.00" x2="2811" y2="232.00" stroke="#ff0000" stroke-width="2"/>
<g transform="translate(2839 240.00) rotate(-90)"><text x="-25.02" y="0" font-family='"Liberation Sans", sans-serif' font-weight="bold" font-size="36" fill="#ff0000">0</text><text x="-5.00" y="0" font-family='"Liberation Sans", sans-serif' font-weight="bold" font-size="36" fill="#ff0000">.</text><text x="5.00" y="0" font-family='"Liberation Sans", sans-serif' font-weight="bold" font-size="36" fill="#ff0000">8</text></g>
<line x1="2800.2" y1="72.50" x2="2811" y2="72.50" stroke="#ff0000" stroke-width="2"/>
<g transform="translate(2839 80.50) rotate(-90)"><path transform="translate(-10.01 0) scale(36.000)" d="M0.243 0L0.391 0L0.391 -0.703L0.308 -0.703Q0.27 -0.655 0.191 -0.611L0.068 -0.569L0.068 -0.489Q0.16 -0.494 0.243 -0.528Z" fill="#ff0000"/></g>
<line x1="129.9" y1="72.0" x2="129.9" y2="870.3" stroke="#000" stroke-width="3.3" stroke-linecap="round"/>
<line x1="129.9" y1="870.2" x2="2869.3" y2="870.2" stroke="#000" stroke-width="3.3" stroke-linecap="round"/>
<line x1="122.3" y1="870.30" x2="130" y2="870.30" stroke="#000" stroke-width="2" stroke-linecap="round"/>
<g transform="translate(104.6 870.30) rotate(-90)"><text x="-10.01" y="0" font-family='"Liberation Sans", sans-serif' font-weight="bold" font-size="36" fill="#000">0</text></g>
<line x1="122.3" y1="675.55" x2="130" y2="675.55" stroke="#000" stroke-width="2" stroke-linecap="round"/>
<g transform="translate(104.6 675.55) rotate(-90)"><path transform="translate(-40.03 0) scale(36.000)" d="M0.243 0L0.391 0L0.391 -0.703L0.308 -0.703Q0.27 -0.655 0.191 -0.611L0.068 -0.569L0.068 -0.489Q0.16 -0.494 0.243 -0.528Z" fill="#000"/><text x="-20.02" y="0" font-family='"Liberation Sans", sans-serif' font-weight="bold" font-size="36" fill="#000">0</text><text x="0.00" y="0" font-family='"Liberation Sans", sans-serif' font-weight="bold" font-size="36" fill="#000">0</text><text x="20.02" y="0" font-family='"Liberation Sans", sans-serif' font-weight="bold" font-size="36" fill="#000">0</text></g>
<line x1="122.3" y1="480.80" x2="130" y2="480.80" stroke="#000" stroke-width="2" stroke-linecap="round"/>
<g transform="translate(104.6 480.80) rotate(-90)"><text x="-40.03" y="0" font-family='"Liberation Sans", sans-serif' font-weight="bold" font-size="36" fill="#000">2</text><text x="-20.02" y="0" font-family='"Liberation Sans", sans-serif' font-weight="bold" font-size="36" fill="#000">0</text><text x="0.00" y="0" font-family='"Liberation Sans", sans-serif' font-weight="bold" font-size="36" fill="#000">0</text><text x="20.02" y="0" font-family='"Liberation Sans", sans-serif' font-weight="bold" font-size="36" fill="#000">0</text></g>
<line x1="122.3" y1="286.05" x2="130" y2="286.05" stroke="#000" stroke-width="2" stroke-linecap="round"/>
<g transform="translate(104.6 286.05) rotate(-90)"><text x="-40.03" y="0" font-family='"Liberation Sans", sans-serif' font-weight="bold" font-size="36" fill="#000">3</text><text x="-20.02" y="0" font-family='"Liberation Sans", sans-serif' font-weight="bold" font-size="36" fill="#000">0</text><text x="0.00" y="0" font-family='"Liberation Sans", sans-serif' font-weight="bold" font-size="36" fill="#000">0</text><text x="20.02" y="0" font-family='"Liberation Sans", sans-serif' font-weight="bold" font-size="36" fill="#000">0</text></g>
<line x1="122.3" y1="91.30" x2="130" y2="91.30" stroke="#000" stroke-width="2" stroke-linecap="round"/>
<g transform="translate(104.6 91.30) rotate(-90)"><text x="-40.03" y="0" font-family='"Liberation Sans", sans-serif' font-weight="bold" font-size="36" fill="#000">4</text><text x="-20.02" y="0" font-family='"Liberation Sans", sans-serif' font-weight="bold" font-size="36" fill="#000">0</text><text x="0.00" y="0" font-family='"Liberation Sans", sans-serif' font-weight="bold" font-size="36" fill="#000">0</text><text x="20.02" y="0" font-family='"Liberation Sans", sans-serif' font-weight="bold" font-size="36" fill="#000">0</text></g>
<line x1="231.00" y1="870.3" x2="231.00" y2="877.3" stroke="#000" stroke-width="2" stroke-linecap="round"/>
<g transform="translate(231.00 925.2)"><text x="-10.01" y="0" font-family='"Liberation Sans", sans-serif' font-weight="bold" font-size="36" fill="#000">0</text></g>
<line x1="466.88" y1="870.3" x2="466.88" y2="877.3" stroke="#000" stroke-width="2" stroke-linecap="round"/>
<g transform="translate(466.88 925.2)"><text x="-20.02" y="0" font-family='"Liberation Sans", sans-serif' font-weight="bold" font-size="36" fill="#000">5</text><text x="0.00" y="0" font-family='"Liberation Sans", sans-serif' font-weight="bold" font-size="36" fill="#000">0</text></g>
<line x1="702.76" y1="870.3" x2="702.76" y2="877.3" stroke="#000" stroke-width="2" stroke-linecap="round"/>
<g transform="translate(702.76 925.2)"><path transform="translate(-30.02 0) scale(36.000)" d="M0.243 0L0.391 0L0.391 -0.703L0.308 -0.703Q0.27 -0.655 0.191 -0.611L0.068 -0.569L0.068 -0.489Q0.16 -0.494 0.243 -0.528Z" fill="#000"/><text x="-10.01" y="0" font-family='"Liberation Sans", sans-serif' font-weight="bold" font-size="36" fill="#000">0</text><text x="10.01" y="0" font-family='"Liberation Sans", sans-serif' font-weight="bold" font-size="36" fill="#000">0</text></g>
<line x1="938.64" y1="870.3" x2="938.64" y2="877.3" stroke="#000" stroke-width="2" stroke-linecap="round"/>
<g transform="translate(938.64 925.2)"><path transform="translate(-30.02 0) scale(36.000)" d="M0.243 0L0.391 0L0.391 -0.703L0.308 -0.703Q0.27 -0.655 0.191 -0.611L0.068 -0.569L0.068 -0.489Q0.16 -0.494 0.243 -0.528Z" fill="#000"/><text x="-10.01" y="0" font-family='"Liberation Sans", sans-serif' font-weight="bold" font-size="36" fill="#000">5</text><text x="10.01" y="0" font-family='"Liberation Sans", sans-serif' font-weight="bold" font-size="36" fill="#000">0</text></g>
<line x1="1174.52" y1="870.3" x2="1174.52" y2="877.3" stroke="#000" stroke-width="2" stroke-linecap="round"/>
<g transform="translate(1174.52 925.2)"><text x="-30.02" y="0" font-family='"Liberation Sans", sans-serif' font-weight="bold" font-size="36" fill="#000">2</text><text x="-10.01" y="0" font-family='"Liberation Sans", sans-serif' font-weight="bold" font-size="36" fill="#000">0</text><text x="10.01" y="0" font-family='"Liberation Sans", sans-serif' font-weight="bold" font-size="36" fill="#000">0</text></g>
<line x1="1410.40" y1="870.3" x2="1410.40" y2="877.3" stroke="#000" stroke-width="2" stroke-linecap="round"/>
<g transform="translate(1410.40 925.2)"><text x="-30.02" y="0" font-family='"Liberation Sans", sans-serif' font-weight="bold" font-size="36" fill="#000">2</text><text x="-10.01" y="0" font-family='"Liberation Sans", sans-serif' font-weight="bold" font-size="36" fill="#000">5</text><text x="10.01" y="0" font-family='"Liberation Sans", sans-serif' font-weight="bold" font-size="36" fill="#000">0</text></g>
<line x1="1646.28" y1="870.3" x2="1646.28" y2="877.3" stroke="#000" stroke-width="2" stroke-linecap="round"/>
<g transform="translate(1646.28 925.2)"><text x="-30.02" y="0" font-family='"Liberation Sans", sans-serif' font-weight="bold" font-size="36" fill="#000">3</text><text x="-10.01" y="0" font-family='"Liberation Sans", sans-serif' font-weight="bold" font-size="36" fill="#000">0</text><text x="10.01" y="0" font-family='"Liberation Sans", sans-serif' font-weight="bold" font-size="36" fill="#000">0</text></g>
<line x1="1882.16" y1="870.3" x2="1882.16" y2="877.3" stroke="#000" stroke-width="2" stroke-linecap="round"/>
<g transform="translate(1882.16 925.2)"><text x="-30.02" y="0" font-family='"Liberation Sans", sans-serif' font-weight="bold" font-size="36" fill="#000">3</text><text x="-10.01" y="0" font-family='"Liberation Sans", sans-serif' font-weight="bold" font-size="36" fill="#000">5</text><text x="10.01" y="0" font-family='"Liberation Sans", sans-serif' font-weight="bold" font-size="36" fill="#000">0</text></g>
<line x1="2118.04" y1="870.3" x2="2118.04" y2="877.3" stroke="#000" stroke-width="2" stroke-linecap="round"/>
<g transform="translate(2118.04 925.2)"><text x="-30.02" y="0" font-family='"Liberation Sans", sans-serif' font-weight="bold" font-size="36" fill="#000">4</text><text x="-10.01" y="0" font-family='"Liberation Sans", sans-serif' font-weight="bold" font-size="36" fill="#000">0</text><text x="10.01" y="0" font-family='"Liberation Sans", sans-serif' font-weight="bold" font-size="36" fill="#000">0</text></g>
<line x1="2353.92" y1="870.3" x2="2353.92" y2="877.3" stroke="#000" stroke-width="2" stroke-linecap="round"/>
<g transform="translate(2353.92 925.2)"><text x="-30.02" y="0" font-family='"Liberation Sans", sans-serif' font-weight="bold" font-size="36" fill="#000">4</text><text x="-10.01" y="0" font-family='"Liberation Sans", sans-serif' font-weight="bold" font-size="36" fill="#000">5</text><text x="10.01" y="0" font-family='"Liberation Sans", sans-serif' font-weight="bold" font-size="36" fill="#000">0</text></g>
<line x1="2589.80" y1="870.3" x2="2589.80" y2="877.3" stroke="#000" stroke-width="2" stroke-linecap="round"/>
<g transform="translate(2589.80 925.2)"><text x="-30.02" y="0" font-family='"Liberation Sans", sans-serif' font-weight="bold" font-size="36" fill="#000">5</text><text x="-10.01" y="0" font-family='"Liberation Sans", sans-serif' font-weight="bold" font-size="36" fill="#000">0</text><text x="10.01" y="0" font-family='"Liberation Sans", sans-serif' font-weight="bold" font-size="36" fill="#000">0</text></g>
<text transform="translate(47.9 471.0) rotate(-90) scale(1 1.03)" text-anchor="middle" font-family='"Liberation Sans", sans-serif' font-weight="bold" font-size="48" fill="#000">Nresidue</text>
<text transform="translate(2897.2 477.5) rotate(-90) scale(1 1.06)" text-anchor="middle" font-family='"Liberation Sans", sans-serif' font-weight="bold" font-size="48" fill="#ff0000">pLDDT</text>
<text transform="translate(1501.1 975.9) scale(0.992 1.035)" text-anchor="middle" font-family='"Liberation Sans", sans-serif' font-weight="bold" font-size="48" fill="#000">Residue index</text>
</svg>
</body></html>
